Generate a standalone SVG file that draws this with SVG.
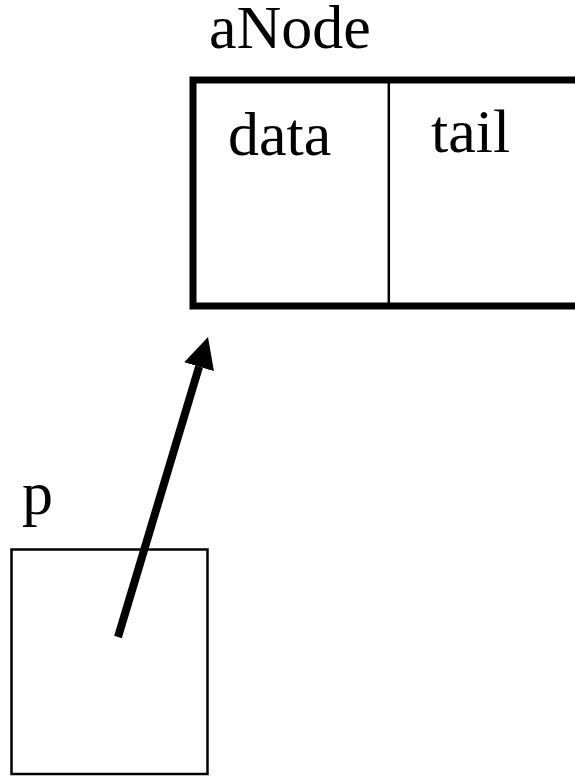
<svg xmlns="http://www.w3.org/2000/svg" width="575" height="776" viewBox="0 0 575 776">
  <style>
    .lbl { font-family: "Liberation Serif", "Times New Roman", serif; font-size: 62px; fill: #000; }
    .thick { fill: #fff; stroke: #000; stroke-width: 7; }
    .thin { fill: #fff; stroke: #000; stroke-width: 2.5; }
    .ptr { stroke: #000; stroke-width: 8; fill: none; stroke-linecap: butt; }
  </style>
  <defs>
    <marker id="head" viewBox="0 0 31 31" markerWidth="31" markerHeight="31" markerUnits="userSpaceOnUse" refX="0" refY="15.5" orient="auto">
      <path d="M0,0 L31,15.5 L0,31 Z" fill="#000"/>
    </marker>
  </defs>

  <!-- list node with two fields -->
  <g id="aNode">
    <text class="lbl" x="209" y="48">aNode</text>
    <rect class="thick" x="193" y="80" width="420" height="226"/>
    <line x1="388.8" y1="83" x2="388.8" y2="303" stroke="#000" stroke-width="2.5"/>
    <text class="lbl" x="228" y="155">data</text>
    <text class="lbl" x="431" y="151.5">tail</text>
  </g>

  <!-- pointer variable -->
  <g id="p">
    <text class="lbl" x="22" y="514">p</text>
    <rect class="thin" x="11.5" y="549.5" width="196" height="224.5"/>
  </g>

  <!-- reference from p to aNode -->
  <g id="connectors">
    <line class="ptr" x1="118" y1="637" x2="199.1" y2="366.7" marker-end="url(#head)"/>
  </g>
</svg>
